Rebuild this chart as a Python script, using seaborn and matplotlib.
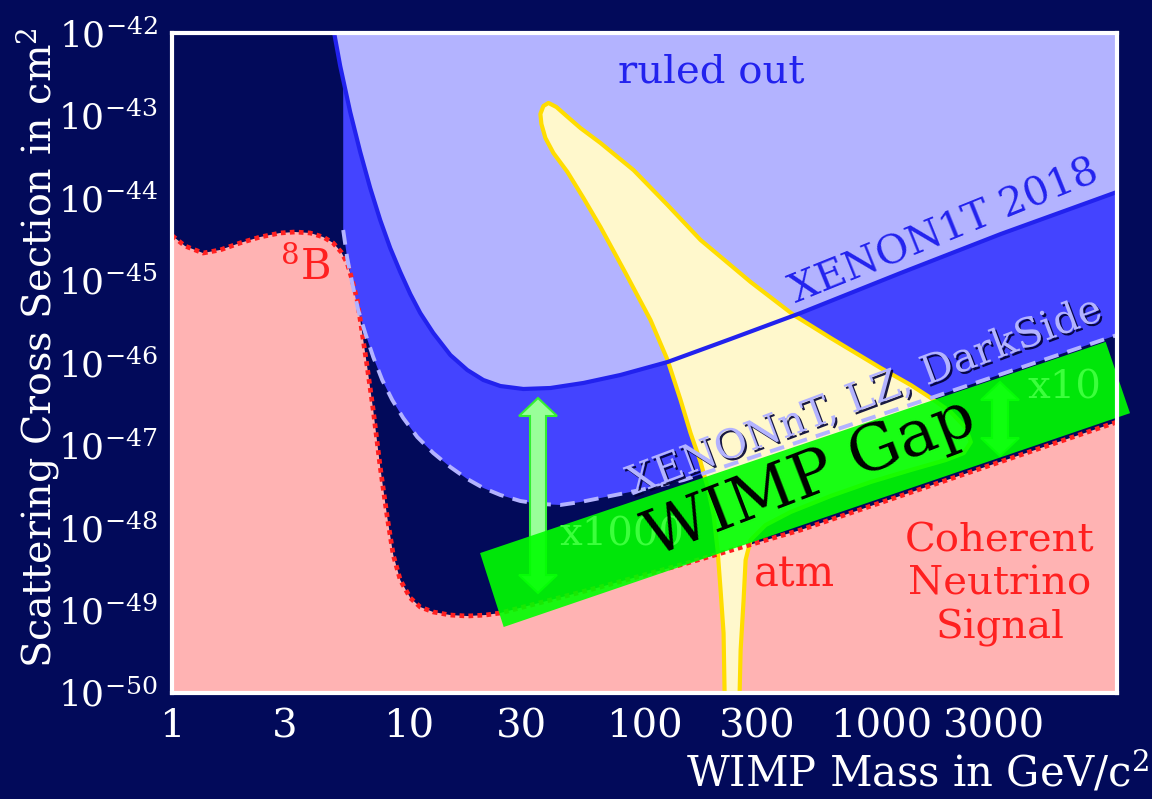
import numpy as np
import pandas as pd
import matplotlib
matplotlib.use("Agg")
import matplotlib.pyplot as plt
import matplotlib.patheffects as pe
from matplotlib.patches import Polygon
from matplotlib.ticker import FixedLocator, FixedFormatter, NullLocator
import seaborn as sns

# ---------------- data (WIMP mass in GeV/c^2, log10 of cross section in cm^2) ----------
xenon1t_mass = [4.857, 5.152, 5.679, 6.261, 6.902, 7.608, 8.388, 9.250, 10.20, 11.24, 12.76,
                15.07, 17.78, 20.79, 24.54, 30.71, 39.97, 55.14, 79.14, 125.2, 231.4, 458.1,
                1215, 3225, 10000]
xenon1t_logsig = [-42.0, -42.40, -42.958, -43.442, -43.879, -44.267, -44.606, -44.897, -45.164,
                  -45.394, -45.636, -45.903, -46.085, -46.206, -46.279, -46.315, -46.303,
                  -46.242, -46.145, -45.988, -45.709, -45.394, -44.909, -44.436, -43.927]

future_mass = [5.305, 5.515, 5.790, 6.140, 6.574, 7.107, 7.758, 8.555, 9.524, 10.92, 12.76,
               15.07, 17.78, 20.79, 24.54, 29.83, 36.25, 44.07, 53.56, 65.11, 96.18, 146.3,
               399.6, 1677, 10000]
future_logsig = [-44.388, -44.727, -45.030, -45.358, -45.636, -45.927, -46.206, -46.448,
                 -46.667, -46.897, -47.091, -47.261, -47.406, -47.515, -47.600, -47.673,
                 -47.709, -47.721, -47.685, -47.636, -47.539, -47.418, -47.006, -46.412,
                 -45.661]

floor_mass = [1.0, 1.135, 1.353, 1.597, 1.942, 2.360, 2.869, 3.320, 3.843, 4.364, 4.810, 5.201,
              5.515, 5.790, 6.080, 6.384, 6.703, 7.107, 7.608, 8.147, 8.640, 9.250, 10.20,
              11.24, 12.76, 15.07, 17.78, 21.20, 24.54, 39.97, 65.11, 152.1, 458.1, 10000]
floor_logsig = [-44.455, -44.582, -44.667, -44.630, -44.545, -44.473, -44.424, -44.412,
                -44.424, -44.473, -44.545, -44.655, -44.788, -44.994, -45.236, -45.636,
                -46.048, -46.570, -47.261, -47.867, -48.327, -48.630, -48.848, -48.958,
                -49.018, -49.055, -49.067, -49.055, -49.030, -48.873, -48.715, -48.424,
                -48.024, -46.715]

# closed outline of the theory-favoured (yellow) region
susy_mass = [39.20, 37.33, 36.25, 36.61, 38.07, 41.16, 47.19, 55.14, 65.11, 83.09, 106.0,
             125.2, 142.1, 156.6, 172.7, 184.9, 196.1, 203.9, 209.9, 216.1, 218.3, 252.7,
             255.2, 262.7, 267.9, 281.3, 325.6, 415.6, 614.0, 907.2, 1340, 1886, 2247, 2406,
             2292, 1980, 1629, 1340, 1000, 614.0, 427.9, 281.3, 172.7, 125.2, 89.83, 65.11,
             53.56, 46.28, 42.38]
susy_logsig = [-42.848, -42.885, -42.982, -43.103, -43.273, -43.455, -43.685, -44.0, -44.352,
               -44.909, -45.479, -45.964, -46.448, -46.848, -47.2, -47.503, -47.842, -48.267,
               -48.752, -49.273, -50.0, -50.0, -49.479, -48.873, -48.388, -48.145, -47.964,
               -47.806, -47.612, -47.442, -47.297, -47.176, -47.091, -46.958, -46.788,
               -46.594, -46.424, -46.267, -46.061, -45.697, -45.418, -45.018, -44.509,
               -44.085, -43.661, -43.333, -43.152, -42.994, -42.897]

x_ticks = [1, 3, 10, 30, 100, 300, 1000, 3000]
x_ticklabels = ["1", "3", "10", "30", "100", "300", "1000", "3000"]
y_exponents = [-50, -49, -48, -47, -46, -45, -44, -43, -42]

# ---------------- style ---------------------------------------------------------------
sns.set_theme(style="white")
plt.rcParams["font.family"] = ["DejaVu Serif", "DejaVu Sans"]
plt.rcParams["mathtext.fontset"] = "dejavuserif"

BG = "#020a5a"
LAV = "#b3b3ff"
MBLUE = "#4444ff"
LBLUE = "#2222ee"
PINK = "#ffb3b3"
RED = "#ff2020"
GOLD = "#ffdd00"
CREAM = "#fff8cc"

W, H = 1152, 799
AX_L, AX_R, AX_T, AX_B = 172, 1117, 33, 693
fig, ax = plt.subplots(figsize=(W/100, H/100), dpi=100)
fig.patch.set_facecolor(BG)
ax.set_facecolor(BG)
fig.subplots_adjust(left=AX_L/W, right=AX_R/W, bottom=1-AX_B/H, top=1-AX_T/H)
AXW, AXH = AX_R - AX_L, AX_B - AX_T

ax.set_xscale("log")
ax.set_yscale("log")
XMIN, XMAX, YMIN, YMAX = 1.0, 1e4, 1e-50, 1e-42

x1 = np.array(xenon1t_mass); y1 = 10.0**np.array(xenon1t_logsig)
xf = np.array(future_mass); yf = 10.0**np.array(future_logsig)
xn = np.array(floor_mass); yn = 10.0**np.array(floor_logsig)
xs = np.array(susy_mass); ys = 10.0**np.array(susy_logsig)

# neutrino floor fill
ax.fill(np.r_[xn, XMAX, XMIN], np.r_[yn, YMIN, YMIN], color=PINK, lw=0, zorder=1)
# ruled out (light)
ax.fill(np.r_[x1, XMAX, x1[0]], np.r_[y1, YMAX, YMAX], color=LAV, lw=0, zorder=1)
# projected reach band (medium blue) between dashed curve and XENON1T line
m1 = x1 > xf[0]
top_x = np.r_[xf[0], x1[m1]]
top_y = np.r_[10**np.interp(np.log10(xf[0]), np.log10(x1), np.log10(y1)), y1[m1]]
ax.fill(np.r_[xf, top_x[::-1]], np.r_[yf, top_y[::-1]], color=MBLUE, lw=0, zorder=1)

# yellow region
ax.fill(xs, ys, facecolor=CREAM, edgecolor=GOLD, lw=3, zorder=2, joinstyle="round")

# curves via seaborn
df_n = pd.DataFrame({"m": xn, "s": yn})
df_f = pd.DataFrame({"m": xf, "s": yf})
df_1 = pd.DataFrame({"m": x1, "s": y1})
sns.lineplot(data=df_n, x="m", y="s", ax=ax, color=RED, lw=3.4, estimator=None, sort=False,
             zorder=3, linestyle=(0, (1, 0.9)))
sns.lineplot(data=df_f, x="m", y="s", ax=ax, color=LAV, lw=2.8, estimator=None, sort=False,
             zorder=3, linestyle=(0, (3.8, 2.4)))
sns.lineplot(data=df_1, x="m", y="s", ax=ax, color=LBLUE, lw=3, estimator=None, sort=False,
             zorder=3)


# double arrows (drawn in axes fraction, sized in pixels)
def double_arrow(xc, ytop, ybot, shaft=8, head=19, hlen=18):
    xa = (xc - AX_L) / AXW
    sw, hw = shaft / AXW, head / AXW
    yt, yb = (AX_B - ytop) / AXH, (AX_B - ybot) / AXH
    hl = hlen / AXH
    pts = [(xa, yt), (xa + hw, yt - hl), (xa + sw, yt - hl), (xa + sw, yb + hl),
           (xa + hw, yb + hl), (xa, yb), (xa - hw, yb + hl), (xa - sw, yb + hl),
           (xa - sw, yt - hl), (xa - hw, yt - hl)]
    ax.add_patch(Polygon(pts, closed=True, transform=ax.transAxes, facecolor="#99ff99",
                         edgecolor="#33ee33", lw=1.5, zorder=4))


double_arrow(538, 398, 593)
double_arrow(1000, 382, 456)

# green WIMP gap band
band = Polygon([(0.326, 0.212), (0.351, 0.100), (1.0138, 0.424), (0.988, 0.532)],
               closed=True, transform=ax.transAxes, facecolor="#00ff00", alpha=0.9,
               lw=0, zorder=5, clip_on=False)
ax.add_patch(band)

ax.text(0.675, 0.326, "WIMP Gap", transform=ax.transAxes, fontsize=46, color="black",
        rotation=21, ha="center", va="center", rotation_mode="anchor", zorder=7)
ax.text(0.476, 0.239, "x1000", transform=ax.transAxes, fontsize=29, color="#3cff3c",
        ha="center", va="center", zorder=6)
ax.text(0.944, 0.462, "x10", transform=ax.transAxes, fontsize=29, color="#3cff3c",
        ha="center", va="center", zorder=6)

# labels in the plot
ax.text(0.571, 0.941, "ruled out", transform=ax.transAxes, fontsize=29, color=LBLUE,
        ha="center", va="center", zorder=6)
ax.text(0.818, 0.699, "XENON1T 2018", transform=ax.transAxes, fontsize=29, color=LBLUE,
        rotation=22, ha="center", va="center", rotation_mode="anchor", zorder=6)
ax.text(0.733, 0.448, "XENONnT, LZ, DarkSide", transform=ax.transAxes, fontsize=29,
        color=LAV, rotation=20.5, ha="center", va="center", rotation_mode="anchor", zorder=6,
        path_effects=[pe.withSimplePatchShadow(offset=(1.5, -1.5), shadow_rgbFace="#000033",
                                               alpha=0.9)])
ax.text(0.141, 0.644, r"$^{8}$B", transform=ax.transAxes, fontsize=30, color=RED,
        ha="center", va="center", zorder=6)
ax.text(0.659, 0.179, "atm", transform=ax.transAxes, fontsize=30, color=RED,
        ha="center", va="center", zorder=6)
ax.text(0.876, 0.164, "Coherent\nNeutrino\nSignal", transform=ax.transAxes, fontsize=29,
        color=RED, ha="center", va="center", linespacing=1.2, zorder=6)

# axes
ax.set_xlim(XMIN, XMAX)
ax.set_ylim(YMIN, YMAX)
ax.xaxis.set_major_locator(FixedLocator(x_ticks))
ax.xaxis.set_major_formatter(FixedFormatter(x_ticklabels))
ax.xaxis.set_minor_locator(NullLocator())
ax.yaxis.set_major_locator(FixedLocator([10.0**e for e in y_exponents]))
ax.yaxis.set_major_formatter(FixedFormatter([r"$10^{%d}$" % e for e in y_exponents]))
ax.yaxis.set_minor_locator(NullLocator())
ax.tick_params(axis="both", which="major", direction="in", length=12, width=2,
               colors="white", pad=10)
ax.tick_params(axis="y", labelsize=26)
ax.tick_params(axis="x", labelsize=29, pad=11)
for sp in ax.spines.values():
    sp.set_color("white")
    sp.set_linewidth(3)
    sp.set_zorder(8)
ax.set_xlabel("")
ax.set_ylabel("")

fig.text(38/W, 1-348/H, r"Scattering Cross Section in cm$^2$", rotation=90,
         ha="center", va="center", color="white", fontsize=28.5)
fig.text(1149/W, 1-773/H, r"WIMP Mass in GeV/c$^2$", ha="right", va="center",
         color="white", fontsize=30)

fig.savefig("out.png", dpi=100, facecolor=BG)
